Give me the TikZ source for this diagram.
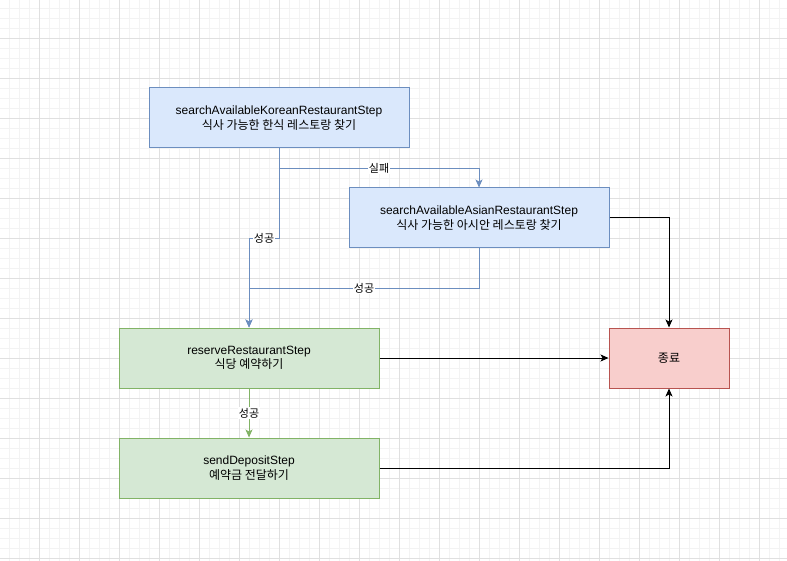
\documentclass[tikz,border=0pt]{standalone}
\usepackage{fontspec}
\setmainfont{Liberation Sans}
\newfontfamily\kr{Noto Sans CJK KR}
\usetikzlibrary{arrows.meta,calc}
\definecolor{bluefill}{HTML}{DAE8FC}
\definecolor{bluestroke}{HTML}{6C8EBF}
\definecolor{greenfill}{HTML}{D5E8D4}
\definecolor{greenstroke}{HTML}{82B366}
\definecolor{redfill}{HTML}{F8CECC}
\definecolor{redstroke}{HTML}{B85450}
\definecolor{minorgrid}{HTML}{F3F3F3}
\definecolor{majorgrid}{HTML}{E0E0E0}
\tikzset{
  box/.style={draw, line width=1pt, minimum width=260pt, minimum height=60pt, inner sep=0pt, align=center, font=\fontsize{12}{14.5}\selectfont},
  bluebox/.style={box, fill=bluefill, draw=bluestroke},
  greenbox/.style={box, fill=greenfill, draw=greenstroke},
  redbox/.style={box, fill=redfill, draw=redstroke, minimum width=120pt},
  edge/.style={line width=1pt, -{Stealth[length=8pt,width=7pt,inset=2pt]}},
  blueedge/.style={edge, draw=bluestroke},
  greenedge/.style={edge, draw=greenstroke},
  blackedge/.style={edge, draw=black},
  lbl/.style={fill=white, inner sep=1pt, font=\kr\fontsize{11}{13}\selectfont, text=black},
}
\begin{document}
\begin{tikzpicture}[x=1pt,y=-1pt]
\useasboundingbox (0,0) rectangle (787,561);
\fill[white] (0,0) rectangle (787,561);
% grid
\foreach \i in {0,...,78} {
  \draw[minorgrid, line width=0.8pt] (9.5+\i*10,0) -- (9.5+\i*10,561);
}
\foreach \i in {0,...,55} {
  \draw[minorgrid, line width=0.8pt] (0,8.5+\i*10) -- (787,8.5+\i*10);
}
\foreach \i in {0,...,19} {
  \draw[majorgrid, line width=1pt] (39.5+\i*40,0) -- (39.5+\i*40,561);
}
\foreach \i in {0,...,13} {
  \draw[majorgrid, line width=1pt] (0,38.5+\i*40) -- (787,38.5+\i*40);
}
% nodes
\node[bluebox] (kor) at (279,118) {searchAvailableKoreanRestaurantStep\\{\kr 식사 가능한 한식 레스토랑 찾기}};
\node[bluebox] (asian) at (479,218) {searchAvailableAsianRestaurantStep\\{\kr 식사 가능한 아시안 레스토랑 찾기}};
\node[greenbox] (res) at (249,358) {reserveRestaurantStep\\{\kr 식당 예약하기}};
\node[greenbox] (send) at (249,468) {sendDepositStep\\{\kr 예약금 전달하기}};
\node[redbox] (end) at (669,358) {{\kr 종료}};
% connectors
\draw[blueedge] (kor.south) -- ++(0,20) -| node[pos=0.25,lbl]{실패} (asian.north);
\draw[blueedge] (kor.south) -- ++(0,90) -| node[pos=0.25,lbl]{성공} (res.north);
\draw[blueedge] (asian.south) -- ++(0,40) -| node[pos=0.25,lbl]{성공} (res.north);
\draw[blackedge] (asian.east) -| (end.north);
\draw[blackedge] (res.east) -- (end.west);
\draw[blackedge] (send.east) -| (end.south);
\draw[greenedge] (res.south) -- node[lbl]{성공} (send.north);
\end{tikzpicture}
\end{document}
